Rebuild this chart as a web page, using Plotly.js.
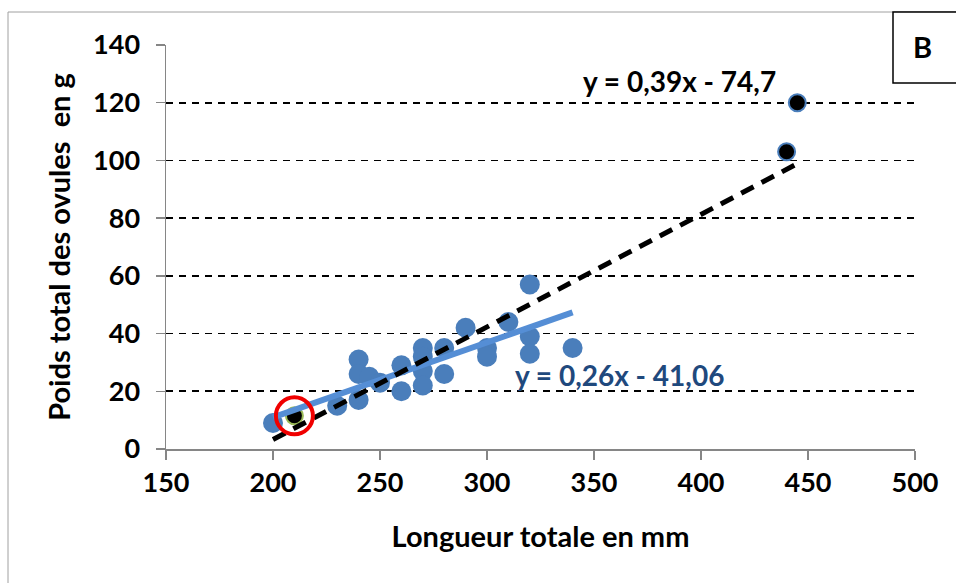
<!DOCTYPE html>
<html>
<head>
<meta charset="utf-8">
<script src="https://cdn.plot.ly/plotly-3.0.1.min.js"></script>
<style>
html,body{margin:0;padding:0;background:#fff;}
#chart{width:956px;height:583px;}
</style>
</head>
<body>
<div id="chart"></div>
<script>
// Blue series (Longueur totale en mm, Poids total des ovules en g)
const xBlue = [200, 230, 240, 240, 245, 240, 250, 260, 260, 270, 270, 270, 270, 280, 280, 290, 300, 300, 310, 320, 320, 320, 340];
const yBlue = [9, 15, 31, 26, 25, 17, 23, 29, 20, 35, 32, 27, 22, 35, 26, 42, 35, 32, 44, 57, 39, 33, 35];
// Black points
const xBlack = [210, 440, 445];
const yBlack = [11.5, 103, 120];
// Highlighted point (red circle)
const xCircled = [210];
const yCircled = [11.5];
// Trendlines as given by their equations
const blueSlope = 0.26, blueIntercept = -41.06, blueRangeX = [200, 340];
const blackSlope = 0.39, blackIntercept = -74.7, blackRangeX = [200, 445];
const blueEq = "y = 0,26x - 41,06";
const blackEq = "y = 0,39x - 74,7";
const xTicks = [150, 200, 250, 300, 350, 400, 450, 500];
const yTicks = [0, 20, 40, 60, 80, 100, 120, 140];

const FONT = "Lato, 'Open Sans', 'DejaVu Sans', sans-serif";
const blueMarker = "rgb(74,126,187)";
const blueLine = "rgb(85,142,213)";
const blueText = "rgb(31,73,125)";
const axisGray = "rgb(134,134,134)";

const fit = (xs, a, b) => xs.map(x => a * x + b);

const traces = [
  {x: xBlue, y: yBlue, type: "scatter", mode: "markers",
   marker: {size: 20, color: blueMarker, line: {width: 0}}, hoverinfo: "x+y"},
  {x: xBlack, y: yBlack, type: "scatter", mode: "markers",
   marker: {size: 17, color: "black",
            line: {width: 2, color: ["rgb(155,187,89)", blueMarker, blueMarker]}}},
  {x: blueRangeX, y: fit(blueRangeX, blueSlope, blueIntercept), type: "scatter", mode: "lines",
   line: {color: blueLine, width: 6}},
  {x: blackRangeX, y: fit(blackRangeX, blackSlope, blackIntercept), type: "scatter", mode: "lines",
   line: {color: "black", width: 5, dash: "14px,9px"}},
  {x: xCircled, y: yCircled, type: "scatter", mode: "markers",
   marker: {symbol: "circle-open", size: 37, color: "rgb(240,0,0)", line: {width: 4, color: "rgb(240,0,0)"}}}
];

// pixel helpers for paper coordinates (plot area: x 166..915, y 45..449)
const L = 166, R = 41, T = 45, B = 134, W = 956, H = 583;
const pw = W - L - R, ph = H - T - B;
const px = v => (v - L) / pw;
const py = v => (H - B - v) / ph;

const layout = {
  width: W, height: H,
  margin: {l: L, r: R, t: T, b: B, pad: 0},
  paper_bgcolor: "white", plot_bgcolor: "white",
  showlegend: false,
  font: {family: FONT, color: "black"},
  xaxis: {
    range: [150, 500], tickvals: xTicks, ticktext: xTicks.map(String),
    showgrid: false, zeroline: false,
    showline: true, linecolor: axisGray, linewidth: 1.5,
    ticks: "outside", ticklen: 9, tickcolor: axisGray, tickwidth: 1.5,
    tickfont: {family: FONT, size: 27, color: "black", weight: "bold"},
    title: {text: "<b>Longueur totale en mm</b>", font: {family: FONT, size: 29, color: "black"}, standoff: 30}
  },
  yaxis: {
    range: [0, 140], tickvals: yTicks, ticktext: yTicks.map(String),
    showgrid: true, gridcolor: "black", gridwidth: 1.8, griddash: "7px,6px",
    zeroline: true, zerolinecolor: axisGray, zerolinewidth: 1.5,
    showline: true, linecolor: axisGray, linewidth: 1.5,
    ticks: "outside", ticklen: 9, tickcolor: axisGray, tickwidth: 1.5,
    ticklabelstandoff: 10,
    tickfont: {family: FONT, size: 27, color: "black", weight: "bold"},
    title: {text: "<b>Poids total des ovules \u00a0en g</b>", font: {family: FONT, size: 29, color: "black"}, standoff: 14}
  },
  shapes: [
    {type: "rect", xref: "paper", yref: "paper", x0: px(8), x1: px(980), y0: py(620), y1: py(12),
     line: {color: "rgb(160,160,160)", width: 1}, fillcolor: "rgba(0,0,0,0)", layer: "below"},
    {type: "rect", xref: "paper", yref: "paper", x0: px(893), x1: px(980), y0: py(83), y1: py(12),
     line: {color: "black", width: 1.5}, fillcolor: "white", layer: "above"}
  ],
  annotations: [
    {xref: "paper", yref: "paper", x: px(923), y: py(46), text: "<b>B</b>", showarrow: false,
     font: {family: FONT, size: 29, color: "black"}, xanchor: "center", yanchor: "middle"},
    {xref: "x", yref: "y", x: 390, y: 127.4, text: "<b>" + blackEq + "</b>", showarrow: false,
     font: {family: FONT, size: 28, color: "black"}, xanchor: "center", yanchor: "middle"},
    {xref: "x", yref: "y", x: 362, y: 25.5, text: "<b>" + blueEq + "</b>", showarrow: false,
     font: {family: FONT, size: 28, color: blueText}, xanchor: "center", yanchor: "middle"}
  ]
};

Plotly.newPlot("chart", traces, layout, {displayModeBar: false, staticPlot: true});
</script>
</body>
</html>
